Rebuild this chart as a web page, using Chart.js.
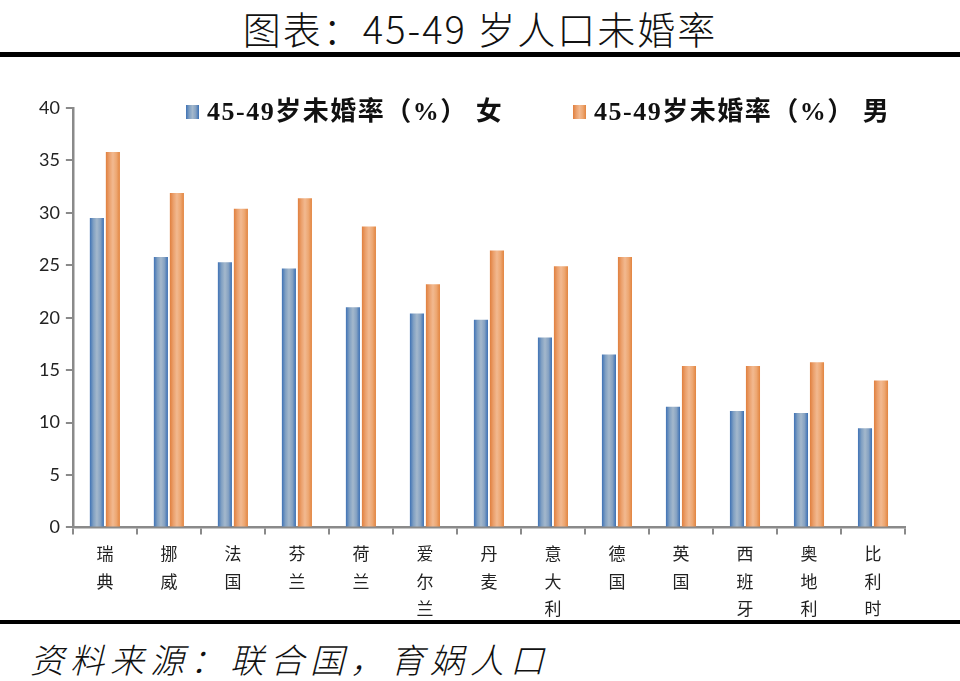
<!DOCTYPE html>
<html>
<head>
<meta charset="utf-8">
<script src="https://cdn.jsdelivr.net/npm/chart.js@4.4.1/dist/chart.umd.min.js"></script>
<style>
  body { margin:0; background:#fff; }
  #page { position:relative; width:960px; height:681px; overflow:hidden; }
  #title { position:absolute; left:0; top:0px; width:960px; text-align:center;
           font:38px 'Noto Sans CJK SC', sans-serif; font-weight:300; color:#111; letter-spacing:2px; }
  #topLine { position:absolute; left:0; top:52px; width:960px; height:5px; background:#000; }
  #bottomLine { position:absolute; left:0; top:620px; width:960px; height:4px; background:#000; }
  #source { position:absolute; left:30px; top:634px; font:italic 34px 'Noto Sans CJK SC', sans-serif;
            font-weight:300; color:#111; letter-spacing:6px; }
  #chartBox { position:absolute; left:0; top:0; width:960px; height:681px; }
</style>
</head>
<body>
<div id="page">
  <div id="title">图表：45-49 岁人口未婚率</div>
  <div id="topLine"></div>
  <div id="bottomLine"></div>
  <div id="source">资料来源：联合国，育娲人口</div>
  <div id="chartBox"><canvas id="chart"></canvas></div>
</div>
<script>
// --- DATA ---
const countries = [
  ['瑞','典'], ['挪','威'], ['法','国'], ['芬','兰'], ['荷','兰'], ['爱','尔','兰'], ['丹','麦'],
  ['意','大','利'], ['德','国'], ['英','国'], ['西','班','牙'], ['奥','地','利'], ['比','利','时']
];
const femaleRates = [29.5, 25.8, 25.3, 24.7, 21.0, 20.4, 19.8, 18.1, 16.5, 11.5, 11.1, 10.9, 9.45];
const maleRates   = [35.8, 31.9, 30.4, 31.4, 28.7, 23.2, 26.4, 24.9, 25.8, 15.4, 15.4, 15.75, 14.0];
const seriesNames = ['45-49岁未婚率（%） 女', '45-49岁未婚率（%） 男'];
const yTicks = { min: 0, max: 40, step: 5 };

// --- COLORS ---
const BLUE_STOPS = ['#3f72b5', '#7f9fc2', '#a4b8cc', '#86a2c2', '#3a6fb4'];
const ORANGE_STOPS = ['#e07f3e', '#eba06c', '#f2b990', '#eda772', '#e2843f'];
const BLUE_SOLID = '#8ba8c8';
const ORANGE_SOLID = '#eea672';
const AXIS_COLOR = '#8a8a8a';

// gradient across each bar, once its position is known
function barGradient(stops, solid){
  return (ctx) => {
    const el = ctx.element;
    if(!el || el.x === undefined || !el.width) return solid;
    const c = ctx.chart.ctx;
    const g = c.createLinearGradient(el.x - el.width/2, 0, el.x + el.width/2, 0);
    stops.forEach((s, i) => g.addColorStop(i/(stops.length-1), s));
    return g;
  };
}

// legend drawn inside the plot area like the original
const innerLegend = {
  id: 'innerLegend',
  afterDraw(chart){
    const c = chart.ctx;
    const items = [
      { x: 186, grad: BLUE_STOPS, text: seriesNames[0] },
      { x: 573, grad: ORANGE_STOPS, text: seriesNames[1] }
    ];
    c.save();
    c.font = "bold 26px 'Liberation Serif', 'Noto Sans CJK SC', serif";
    c.textBaseline = 'middle';
    if('letterSpacing' in c) c.letterSpacing = '1.5px';
    items.forEach(it => {
      const g = c.createLinearGradient(it.x, 0, it.x + 13, 0);
      it.grad.forEach((s, i) => g.addColorStop(i/(it.grad.length-1), s));
      c.fillStyle = g;
      c.fillRect(it.x, 105, 13, 14);
      c.fillStyle = '#111';
      c.fillText(it.text, it.x + 21, 113);
    });
    c.restore();
  }
};

const chart = new Chart(document.getElementById('chart'), {
  type: 'bar',
  data: {
    labels: countries,
    datasets: [
      { label: seriesNames[0], data: femaleRates, backgroundColor: barGradient(BLUE_STOPS, BLUE_SOLID),
        barPercentage: 0.88, categoryPercentage: 0.5 },
      { label: seriesNames[1], data: maleRates, backgroundColor: barGradient(ORANGE_STOPS, ORANGE_SOLID),
        barPercentage: 0.88, categoryPercentage: 0.5 }
    ]
  },
  options: {
    responsive: true,
    maintainAspectRatio: false,
    animation: false,
    layout: { padding: { left: 33, right: 55, top: 108, bottom: 53 } },
    plugins: { legend: { display: false }, tooltip: { enabled: false } },
    scales: {
      x: {
        grid: { offset: true, drawOnChartArea: false, drawTicks: true, tickLength: 7, color: AXIS_COLOR, lineWidth: 2 },
        border: { color: AXIS_COLOR, width: 2.5 },
        ticks: { color: '#222', padding: 6, maxRotation: 0, autoSkip: false,
                 font: { family: "'Noto Sans CJK SC', sans-serif", size: 17, lineHeight: 1.6 } }
      },
      y: {
        min: yTicks.min, max: yTicks.max,
        grid: { drawOnChartArea: false, drawTicks: true, tickLength: 7, color: AXIS_COLOR, lineWidth: 2 },
        border: { color: AXIS_COLOR, width: 2.5 },
        ticks: { stepSize: yTicks.step, color: '#222', padding: 6,
                 font: { family: "Lato, 'Liberation Sans', sans-serif", size: 18 } }
      }
    }
  },
  plugins: [innerLegend]
});
// second pass so bar gradients see element positions
chart.update('none');
</script>
</body>
</html>
